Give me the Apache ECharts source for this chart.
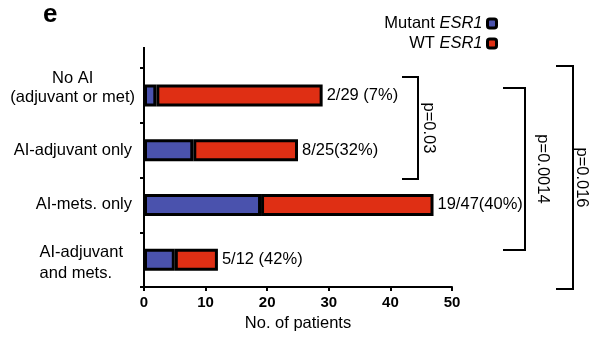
<!DOCTYPE html>
<html>
<head>
<meta charset="utf-8">
<script src="https://cdn.jsdelivr.net/npm/echarts@6/dist/echarts.min.js"></script>
<style>
  html, body { margin: 0; padding: 0; background: #fff; }
  #chart { width: 591px; height: 337px; }
</style>
</head>
<body>
<div id="chart"></div>
<script>
// Patient groups by aromatase-inhibitor (AI) exposure
const categories = ['No AI', 'AI-adjuvant only', 'AI-mets. only', 'AI-adjuvant and mets.'];
const mutantCounts = [2, 8, 19, 5];
const wtCounts = [27, 17, 28, 7];
const countLabels = ['2/29 (7%)', '8/25(32%)', '19/47(40%)', '5/12 (42%)'];
const xTicks = [0, 10, 20, 30, 40, 50];
const pValues = ['p=0.03', 'p=0.0014', 'p=0.016'];

const FONT = '"Liberation Sans", Arial, Helvetica, sans-serif';
const FS = 16.5;
const BLUE = '#4a52ad';
const RED = '#df2f14';

// Multi-line category labels with their own line alignment
const labelRich = {
  c: { align: 'center', fontSize: FS, lineHeight: 19, fontFamily: FONT, color: '#000' },
  r: { align: 'right', fontSize: FS, lineHeight: 19, fontFamily: FONT, color: '#000', padding: [0, 3, 0, 0] },
  l: { align: 'left', fontSize: FS, lineHeight: 21, fontFamily: FONT, color: '#000', padding: [0, 12, 0, 0] },
  s: { fontSize: 1, lineHeight: 14 },
  t: { fontSize: 1, lineHeight: 7 }
};
function categoryLabel(name) {
  if (name === 'No AI') return '{c|No AI}\n{c|(adjuvant or met)}\n{s| }';
  if (name === 'AI-adjuvant and mets.') return '{t| }\n{l|AI-adjuvant}\n{l|and mets.}';
  return '{r|' + name + '}';
}

const chart = echarts.init(document.getElementById('chart'), null, { renderer: 'canvas' });

const option = {
  animation: false,
  backgroundColor: '#fff',
  textStyle: { fontFamily: FONT },
  grid: { left: 144, right: 139, top: 68, bottom: 44, containLabel: false },
  legend: {
    orient: 'vertical',
    right: 88,
    top: 10,
    align: 'right',
    itemWidth: 9,
    itemHeight: 9,
    itemGap: 3,
    icon: 'roundRect',
    selectedMode: false,
    itemStyle: { borderColor: '#000', borderWidth: 3 },
    textStyle: {
      fontSize: FS, fontFamily: FONT, color: '#000',
      rich: { i: { fontStyle: 'italic', fontSize: FS, fontFamily: FONT, color: '#000' } }
    },
    formatter: function (name) {
      const parts = name.split(' ');
      return parts[0] + ' {i|' + parts[1] + '}';
    },
    data: ['Mutant ESR1', 'WT ESR1']
  },
  xAxis: {
    type: 'value',
    min: xTicks[0],
    max: xTicks[xTicks.length - 1],
    interval: xTicks[1] - xTicks[0],
    name: 'No. of patients',
    nameLocation: 'middle',
    nameGap: 24,
    nameTextStyle: { fontSize: FS, fontFamily: FONT, color: '#000' },
    axisLine: { show: true, lineStyle: { color: '#000', width: 2 } },
    axisTick: { show: true, inside: false, length: 4, lineStyle: { color: '#000', width: 2 } },
    axisLabel: { margin: 8, fontSize: 15, fontWeight: 'bold', fontFamily: FONT, color: '#000' },
    splitLine: { show: false }
  },
  yAxis: {
    type: 'category',
    inverse: true,
    data: categories,
    axisLine: { show: true, lineStyle: { color: '#000', width: 2 } },
    axisTick: { show: true, inside: false, length: 4, alignWithLabel: false, lineStyle: { color: '#000', width: 2 } },
    axisLabel: { margin: 9, formatter: categoryLabel, rich: labelRich },
    splitLine: { show: false }
  },
  series: [
    {
      name: 'Mutant ESR1',
      type: 'bar',
      stack: 'patients',
      barWidth: 22,
      data: mutantCounts,
      itemStyle: { color: BLUE, borderColor: '#000', borderWidth: 3 }
    },
    {
      name: 'WT ESR1',
      type: 'bar',
      stack: 'patients',
      barWidth: 22,
      data: wtCounts,
      itemStyle: { color: RED, borderColor: '#000', borderWidth: 3 },
      label: {
        show: true,
        position: 'right',
        distance: 4,
        fontSize: FS,
        fontFamily: FONT,
        color: '#000',
        formatter: function (p) { return countLabels[p.dataIndex]; }
      }
    }
  ]
};

chart.setOption(option);

// Significance brackets, panel letter and the y-axis extension above the first band
function bracket(x0, x1, y0, y1, text, tx) {
  return [
    {
      type: 'polyline',
      shape: { points: [[x0, y0], [x1, y0], [x1, y1], [x0, y1]] },
      style: { stroke: '#000', lineWidth: 2, fill: null }
    },
    {
      type: 'text',
      x: tx,
      y: (y0 + y1) / 2,
      rotation: -Math.PI / 2,
      style: {
        text: text, fontSize: FS, fontFamily: FONT, fill: '#000',
        align: 'center', verticalAlign: 'middle'
      }
    }
  ];
}

chart.setOption({
  graphic: [
    {
      type: 'line',
      shape: { x1: 144, y1: 47, x2: 144, y2: 68 },
      style: { stroke: '#000', lineWidth: 2 }
    },
    {
      type: 'text',
      left: 43,
      top: 2,
      style: { text: 'e', fontSize: 26, fontWeight: 'bold', fontFamily: FONT, fill: '#000' }
    }
  ]
  .concat(bracket(402, 418, 77, 179, pValues[0], 429))
  .concat(bracket(503, 525, 88, 250, pValues[1], 543))
  .concat(bracket(556, 573, 66, 289, pValues[2], 582))
});
</script>
</body>
</html>
